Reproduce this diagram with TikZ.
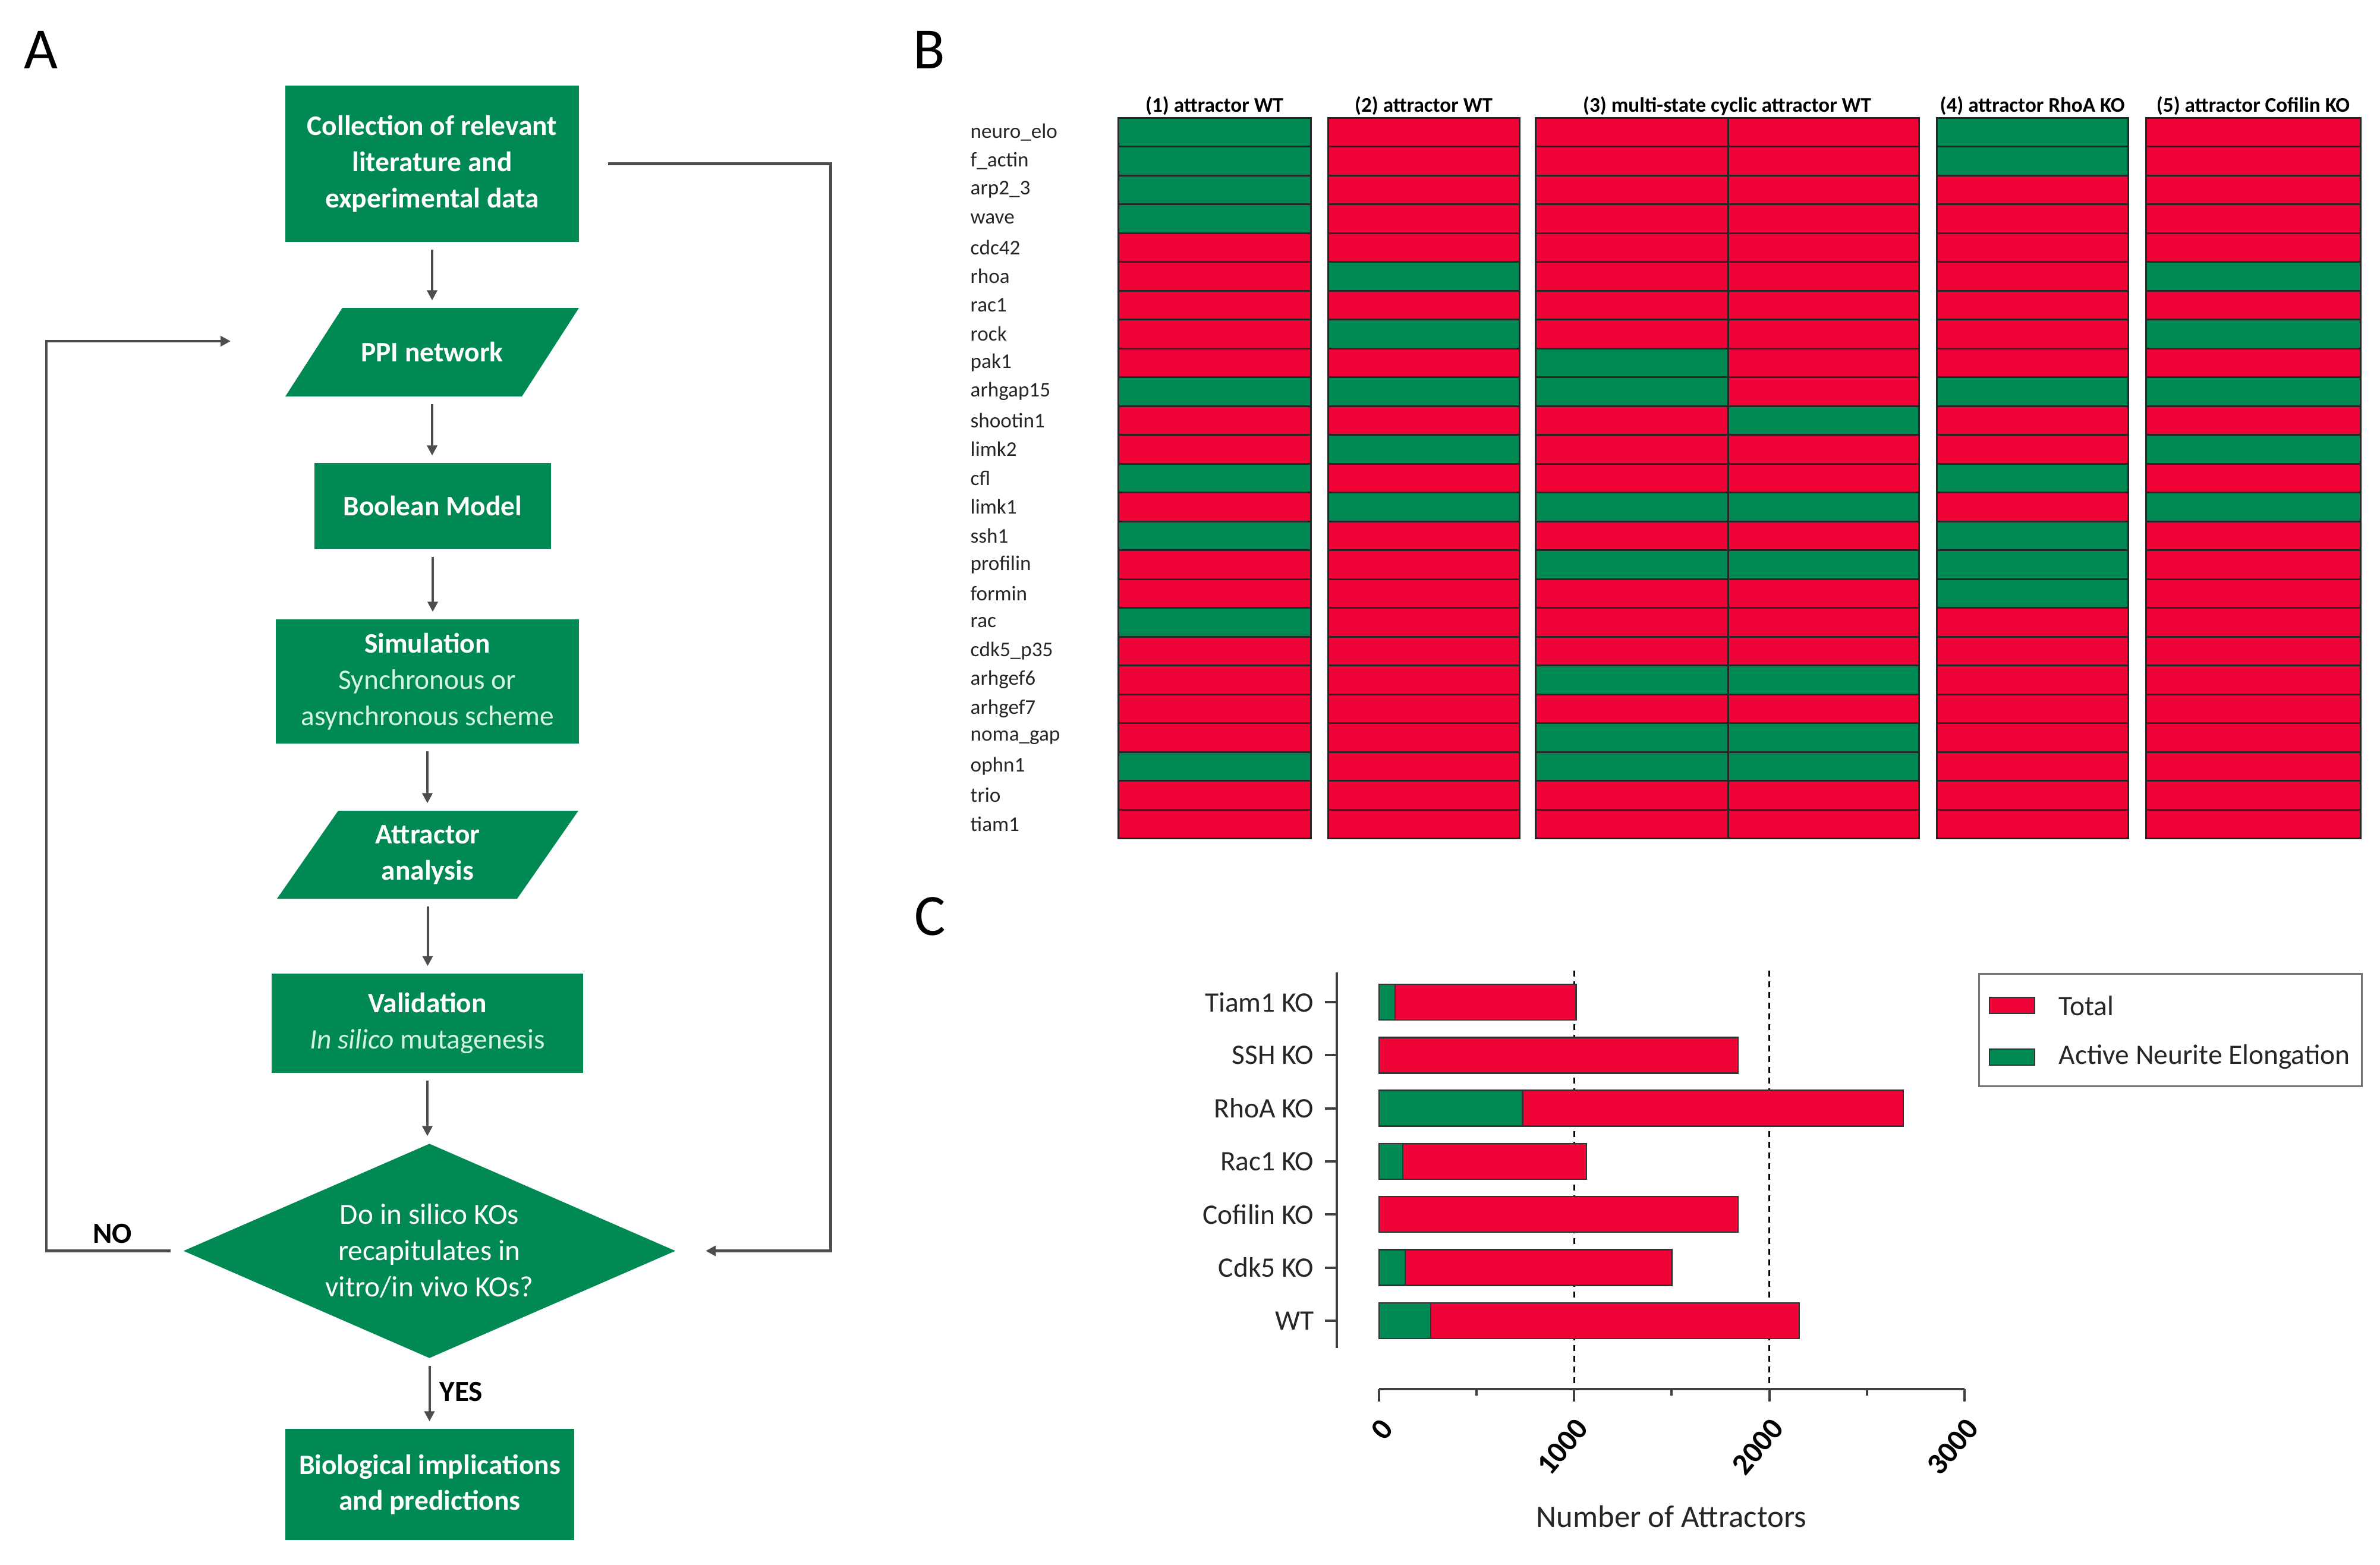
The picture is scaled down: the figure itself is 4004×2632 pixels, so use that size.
\documentclass[tikz,border=0pt]{standalone}
\usepackage{fontspec}
\setmainfont{Carlito}
\usetikzlibrary{arrows.meta,shapes.geometric}

\definecolor{flowgreen}{HTML}{008952}
\definecolor{state0}{HTML}{F00438}
\definecolor{state1}{HTML}{008952}
\definecolor{linegray}{HTML}{4D4D4D}
\definecolor{mint}{HTML}{D4F3E3}
\def\barscale{0.3283}
\newcommand{\subtxt}[1]{{\mdseries\color{mint}#1}}

\tikzset{
  procbox/.style={rectangle, fill=flowgreen, text=white, align=center, inner sep=0pt,
    font=\fontsize{13.5}{17.3}\selectfont\bfseries},
  iobox/.style={rectangle, fill=white, text=white, align=center, inner sep=0pt,
    font=\fontsize{13.5}{17.3}\selectfont\bfseries,
    path picture={\fill[flowgreen] ([xshift=#1]path picture bounding box.north west)
      -- (path picture bounding box.north east)
      -- ([xshift=-#1]path picture bounding box.south east)
      -- (path picture bounding box.south west) -- cycle;}},
  decbox/.style={diamond, fill=flowgreen, text=white, align=center, inner sep=0pt, aspect=2.3,
    font=\fontsize{14}{17.3}\selectfont},
  flow/.style={draw=linegray, line width=0.4mm, -{Triangle[length=1.7mm,width=1.7mm]},
    shorten <=1.2mm, shorten >=1.2mm},
  loopline/.style={draw=linegray, line width=0.45mm, -{Triangle[length=1.7mm,width=1.7mm]}},
  yesno/.style={inner sep=0pt, font=\fontsize{14}{17}\selectfont\bfseries},
  panellbl/.style={inner sep=0pt, font=\fontsize{28}{34}\selectfont},
  genelbl/.style={anchor=west, inner sep=0pt, text=black!85, font=\fontsize{10}{12}\selectfont},
  hdlbl/.style={inner sep=0pt, font=\fontsize{10}{12}\selectfont\bfseries},
  hmcell/.style={draw=black!85, line width=0.3mm},
  barbox/.style={draw=black!80, line width=0.25mm},
  axisline/.style={draw=black!75, line width=0.4mm},
  dashline/.style={draw=black, line width=0.3mm, dash pattern=on 1mm off 0.8mm},
  catlbl/.style={anchor=east, inner sep=0pt, text=black!85, font=\fontsize{13.5}{16}\selectfont},
  ticklbl/.style={anchor=east, rotate=50, inner sep=0pt, font=\fontsize{14.5}{16}\selectfont\bfseries},
  leglbl/.style={anchor=west, inner sep=0pt, text=black!85, font=\fontsize{13.5}{16}\selectfont},
}

\begin{document}
\begin{tikzpicture}[x=0.1mm, y=-0.1mm]
	%%%%% START %%%%%
	\useasboundingbox[fill=white] (0,0) rectangle (4004,2632);
	
	\node[panellbl] (pA) at (69,84) {A};
	\node[panellbl] (pB) at (1563,84) {B};
	\node[panellbl] (pC) at (1565,1542) {C};
	
	% A: workflow
	\node[procbox, minimum width=49.4mm, minimum height=26.3mm] (collect) at (727,275.5) {Collection of relevant\\literature and\\experimental data};
	\node[iobox=9.6mm, minimum width=49.4mm, minimum height=14.9mm] (ppi) at (727,592.5) {PPI network};
	\node[procbox, minimum width=39.8mm, minimum height=14.5mm] (boolean) at (728,851.5) {Boolean Model};
	\node[procbox, minimum width=51mm, minimum height=20.9mm] (simul) at (719,1146.5) {Simulation\\\subtxt{Synchronous or}\\\subtxt{asynchronous scheme}};
	\node[iobox=10.3mm, minimum width=50.7mm, minimum height=14.8mm] (attract) at (719.5,1438) {Attractor\\analysis};
	\node[procbox, minimum width=52.4mm, minimum height=16.7mm] (valid) at (719,1721.5) {Validation\\\subtxt{\textit{In silico} mutagenesis}};
	\node[decbox, minimum width=82.8mm, minimum height=36.1mm] (decide) at (722.5,2104.5) {Do in silico KOs\\recapitulates in\\vitro/in vivo KOs?};
	\node[procbox, minimum width=48.6mm, minimum height=18.7mm] (biol) at (723,2497.5) {Biological implications\\and predictions};
	
	\draw[flow] (collect.south) -- (collect.south |- ppi.north);
	\draw[flow] (ppi.south) -- (ppi.south |- boolean.north);
	\draw[flow] (boolean.south) -- (boolean.south |- simul.north);
	\draw[flow] (simul.south) -- (simul.south |- attract.north);
	\draw[flow] (attract.south) -- (attract.south |- valid.north);
	\draw[flow] (valid.south) -- (valid.south |- decide.north);
	\draw[flow] (decide.south) -- (decide.south |- biol.north);
	\node[yesno, anchor=west] (yes) at (739,2341) {YES};
	
	\coordinate (noend) at (388,574);
	\draw[loopline] ([xshift=-2.1mm]decide.west) -| ([xshift=-31mm]noend) -- (noend);
	\node[yesno] (no) at (189,2075) {NO};
	\draw[loopline] ([xshift=4.8mm]collect.east) -- ++(375,0) |- ([xshift=5mm]decide.east);
	
	% B: attractor states
	\node[hdlbl] (hd1) at (2043,178) {(1) attractor WT};
	\node[hdlbl] (hd2) at (2395,178) {(2) attractor WT};
	\node[hdlbl] (hd3) at (2905.5,178) {(3) multi-state cyclic attractor WT};
	\node[hdlbl] (hd4) at (3419,178) {(4) attractor RhoA KO};
	\node[hdlbl] (hd5) at (3790.5,178) {(5) attractor Cofilin KO};
	
	\foreach \gene/\sa/\sb/\sc/\sd/\se/\sf [count=\r] in {
		neuro\_elo/1/0/0/0/1/0, f\_actin/1/0/0/0/1/0, arp2\_3/1/0/0/0/0/0, wave/1/0/0/0/0/0,
		cdc42/0/0/0/0/0/0, rhoa/0/1/0/0/0/1, rac1/0/0/0/0/0/0, rock/0/1/0/0/0/1,
		pak1/0/0/1/0/0/0, arhgap15/1/1/1/0/1/1, shootin1/0/0/0/1/0/0, limk2/0/1/0/0/0/1,
		cfl/1/0/0/0/1/0, limk1/0/1/1/1/0/1, ssh1/1/0/0/0/1/0, profilin/0/0/1/1/1/0,
		formin/0/0/0/0/1/0, rac/1/0/0/0/0/0, cdk5\_p35/0/0/0/0/0/0, arhgef6/0/0/1/1/0/0,
		arhgef7/0/0/0/0/0/0, noma\_gap/0/0/1/1/0/0, ophn1/1/0/1/1/0/0, trio/0/0/0/0/0/0,
		tiam1/0/0/0/0/0/0}
	{
		\pgfmathsetmacro\ytop{198+(\r-1)*48.5}
		\pgfmathsetmacro\ybot{198+\r*48.5}
		\node[genelbl] (g\r) at (1632,{(\ytop+\ybot)/2}) {\gene};
		\filldraw[hmcell, fill=state\sa] (1881,\ytop) rectangle (2205,\ybot);
		\filldraw[hmcell, fill=state\sb] (2234,\ytop) rectangle (2556,\ybot);
		\filldraw[hmcell, fill=state\sc] (2583,\ytop) rectangle (2907,\ybot);
		\filldraw[hmcell, fill=state\sd] (2907,\ytop) rectangle (3228,\ybot);
		\filldraw[hmcell, fill=state\se] (3258,\ytop) rectangle (3580,\ybot);
		\filldraw[hmcell, fill=state\sf] (3610,\ytop) rectangle (3971,\ybot);
	}
	
	% C: number of attractors
	\foreach \v in {1000,2000}
		\draw[dashline] ({2320+\barscale*\v},1633) -- ({2320+\barscale*\v},2337);
	
	\foreach \lbl/\act/\tot [count=\i] in {Tiam1 KO/82/1010, SSH KO/0/1840, RhoA KO/736/2686,
		Rac1 KO/122/1063, Cofilin KO/0/1840, Cdk5 KO/134/1500, WT/265/2154}
	{
		\pgfmathsetmacro\yc{1686+(\i-1)*89.3}
		\node[catlbl] (cat\i) at (2211,\yc) {\lbl};
		\draw[axisline] (2229,\yc) -- (2249,\yc);
		\filldraw[barbox, fill=state0] (2320,{\yc-30}) rectangle ({2320+\barscale*\tot},{\yc+30});
		\ifnum\act>0
			\filldraw[barbox, fill=state1] (2320,{\yc-30}) rectangle ({2320+\barscale*\act},{\yc+30});
		\fi
	}
	\draw[axisline] (2249,1636) -- (2249,2268);
	
	\draw[axisline] (2320,2337) -- (3305,2337);
	\foreach \v in {0,1000,2000,3000} {
		\draw[axisline] ({2320+\barscale*\v},2337) -- ++(0,21);
		\node[ticklbl] (t\v) at ({2334+\barscale*\v},2394) {\v};
	}
	\foreach \v in {500,1500,2500}
		\draw[axisline] ({2320+\barscale*\v},2337) -- ++(0,11);
	\node[font=\fontsize{15}{18}\selectfont, text=black!85, inner sep=0pt] (xtitle) at (2812,2551) {Number of Attractors};
	
	\draw[draw=black!55, line width=0.3mm] (3329,1638) rectangle (3973,1827);
	\filldraw[barbox, fill=state0] (3347,1678) rectangle (3423,1705);
	\filldraw[barbox, fill=state1] (3347,1765) rectangle (3423,1792);
	\node[leglbl] (legtot) at (3463,1692) {Total};
	\node[leglbl] (legact) at (3463,1778) {Active Neurite Elongation};
	
	%%%%% END %%%%%
\end{tikzpicture}
\end{document}
